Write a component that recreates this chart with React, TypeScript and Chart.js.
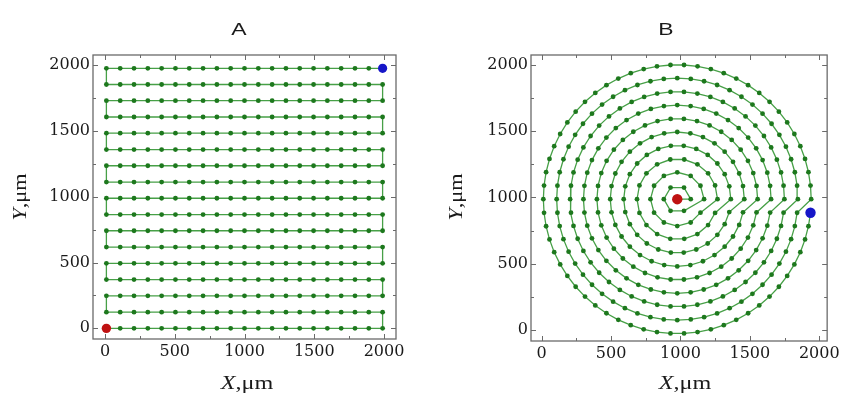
import React, { useEffect, useRef } from "react";
import { Chart, registerables } from "chart.js";

Chart.register(...registerables);

// ---------- Data ----------
// Panel A: raster (serpentine) scan grid
const rasterColumnsX = [10, 109, 208, 307, 406, 505, 604, 703, 802, 901, 1000, 1099, 1198, 1297, 1396, 1495, 1594, 1693, 1792, 1891, 1990];
const rasterRowsY = [0, 123, 247, 370, 494, 617, 741, 864, 988, 1111, 1235, 1358, 1482, 1605, 1729, 1852, 1975];

// Panel B: spiral scan made of rings around a centre
const spiralCenterXY = [977, 987];
const spiralRadiusX = [97, 193, 290, 386, 483, 579, 676, 772, 869, 965];
const spiralRadiusY = [101, 203, 304, 406, 507, 608, 710, 811, 913, 1014];
const spiralPointsPerRing = [6, 12, 18, 26, 32, 38, 44, 50, 56, 62];

// Axes
const majorTicks = [0, 500, 1000, 1500, 2000];
const minorTicks = [250, 750, 1250, 1750];
const panelTitles = ["A", "B"];
const axisTitleX = ["X", ",μm"];
const axisTitleY = ["Y", ",μm"];

// ---------- Styles ----------
const GREEN_LINE = "#47a047";
const GREEN_POINT = "#1d781d";
const RED = "#bf1212";
const BLUE = "#1616c8";
const FRAME = "#6a6a6a";
const TEXT = "#1a1a1a";

type Pt = { x: number; y: number };

function buildRaster(): Pt[] {
  const pts: Pt[] = [];
  rasterRowsY.forEach((y, i) => {
    const cols = i % 2 === 0 ? rasterColumnsX : [...rasterColumnsX].reverse();
    cols.forEach((x) => pts.push({ x, y }));
  });
  return pts;
}

function buildSpiral(): Pt[] {
  const [cx, cy] = spiralCenterXY;
  const pts: Pt[] = [{ x: cx, y: cy }];
  spiralPointsPerRing.forEach((n, k) => {
    for (let j = 0; j < n; j++) {
      const a = (2 * Math.PI * j) / n;
      pts.push({ x: cx + spiralRadiusX[k] * Math.cos(a), y: cy + spiralRadiusY[k] * Math.sin(a) });
    }
  });
  return pts;
}

function drawMixed(
  ctx: CanvasRenderingContext2D,
  parts: { text: string; font: string }[],
  x: number,
  y: number,
  scaleX: number,
  rotate: boolean
) {
  ctx.save();
  ctx.translate(x, y);
  if (rotate) ctx.rotate(-Math.PI / 2);
  ctx.scale(scaleX, 1);
  let total = 0;
  const widths = parts.map((p) => {
    ctx.font = p.font;
    const w = ctx.measureText(p.text).width;
    total += w;
    return w;
  });
  let cur = -total / 2;
  ctx.fillStyle = TEXT;
  ctx.textAlign = "left";
  ctx.textBaseline = "alphabetic";
  parts.forEach((p, i) => {
    ctx.font = p.font;
    ctx.fillText(p.text, cur, 0);
    cur += widths[i];
  });
  ctx.restore();
}

const decorPlugin = {
  id: "decor",
  afterDraw(chart: any, _args: any, opts: any) {
    const ctx: CanvasRenderingContext2D = chart.ctx;
    const { left, right, top, bottom } = chart.chartArea;
    const xs = chart.scales.x;
    const ys = chart.scales.y;
    ctx.save();
    ctx.strokeStyle = FRAME;
    ctx.lineWidth = 1.3;
    ctx.strokeRect(left, top, right - left, bottom - top);
    ctx.lineWidth = 1;
    const drawX = (v: number, len: number) => {
      const p = Math.round(xs.getPixelForValue(v)) + 0.5;
      ctx.beginPath();
      ctx.moveTo(p, bottom);
      ctx.lineTo(p, bottom - len);
      ctx.moveTo(p, top);
      ctx.lineTo(p, top + len);
      ctx.stroke();
    };
    const drawY = (v: number, len: number) => {
      const p = Math.round(ys.getPixelForValue(v)) + 0.5;
      ctx.beginPath();
      ctx.moveTo(left, p);
      ctx.lineTo(left + len, p);
      ctx.moveTo(right, p);
      ctx.lineTo(right - len, p);
      ctx.stroke();
    };
    majorTicks.forEach((v) => {
      drawX(v, 5);
      drawY(v, 5);
    });
    minorTicks.forEach((v) => {
      drawX(v, 3);
      drawY(v, 3);
    });
    ctx.restore();

    // Panel title
    drawMixed(ctx, [{ text: opts.title, font: '17px "Liberation Sans"' }], opts.titleX, 35, 1.35, false);
    // Axis titles
    const serifI = 'italic 19px "Liberation Serif"';
    const serif = '19px "Liberation Serif"';
    drawMixed(
      ctx,
      [
        { text: axisTitleX[0], font: serifI },
        { text: axisTitleX[1], font: serif },
      ],
      opts.xLabelX,
      389,
      1.27,
      false
    );
    drawMixed(
      ctx,
      [
        { text: axisTitleY[0], font: serifI },
        { text: axisTitleY[1], font: serif },
      ],
      opts.yLabelX,
      197,
      1.17,
      true
    );
  },
};

type PanelCfg = {
  pageLeft: number;
  width: number;
  xMin: number;
  xMax: number;
  yMin: number;
  yMax: number;
  yAxisWidth: number;
  xAxisHeight: number;
  padRight: number;
  path: Pt[];
  startRadius: number;
  endRadius: number;
  title: string;
  titleX: number;
  xLabelX: number;
  yLabelX: number;
};

function Panel({ cfg }: { cfg: PanelCfg }) {
  const ref = useRef<HTMLCanvasElement>(null);
  useEffect(() => {
    if (!ref.current) return;
    const tickFont = { family: '"DejaVu Serif"', size: 16 };
    const fmt = (v: any) => String(v);
    const path = cfg.path;
    const chart = new Chart(ref.current, {
      type: "scatter",
      data: {
        datasets: [
          {
            data: [path[0]],
            pointRadius: cfg.startRadius,
            pointBackgroundColor: RED,
            pointBorderWidth: 0,
            showLine: false,
          },
          {
            data: [path[path.length - 1]],
            pointRadius: cfg.endRadius,
            pointBackgroundColor: BLUE,
            pointBorderWidth: 0,
            showLine: false,
          },
          {
            data: path,
            showLine: true,
            borderColor: GREEN_LINE,
            borderWidth: 1.3,
            pointRadius: 2.4,
            pointBackgroundColor: GREEN_POINT,
            pointBorderWidth: 0,
            tension: 0,
          },
        ],
      },
      options: {
        animation: false,
        responsive: false,
        events: [],
        layout: { padding: { left: 0, top: 55, right: cfg.padRight, bottom: 0 } },
        plugins: {
          legend: { display: false },
          tooltip: { enabled: false },
          title: { display: false },
          decor: { title: cfg.title, titleX: cfg.titleX, xLabelX: cfg.xLabelX, yLabelX: cfg.yLabelX },
        } as any,
        scales: {
          x: {
            type: "linear",
            min: cfg.xMin,
            max: cfg.xMax,
            afterBuildTicks: (s: any) => {
              s.ticks = majorTicks.map((v) => ({ value: v }));
            },
            afterFit: (s: any) => {
              s.height = cfg.xAxisHeight;
            },
            grid: { display: false, drawTicks: false },
            border: { display: false },
            ticks: { font: tickFont, color: TEXT, padding: 3, maxRotation: 0, autoSkip: false, callback: fmt },
          },
          y: {
            type: "linear",
            min: cfg.yMin,
            max: cfg.yMax,
            afterBuildTicks: (s: any) => {
              s.ticks = majorTicks.map((v) => ({ value: v }));
            },
            afterFit: (s: any) => {
              s.width = cfg.yAxisWidth;
            },
            grid: { display: false, drawTicks: false },
            border: { display: false },
            ticks: { font: tickFont, color: TEXT, padding: 3, autoSkip: false, callback: fmt },
          },
        },
      },
      plugins: [decorPlugin as any],
    });
    return () => chart.destroy();
  }, []);
  return (
    <canvas
      ref={ref}
      width={cfg.width}
      height={397}
      style={{ position: "absolute", left: cfg.pageLeft, top: 0, width: cfg.width, height: 397 }}
    />
  );
}

export default function App() {
  const panelA: PanelCfg = {
    pageLeft: 0,
    width: 421,
    xMin: -86,
    xMax: 2086,
    yMin: -81,
    yMax: 2076,
    yAxisWidth: 93,
    xAxisHeight: 58,
    padRight: 25,
    path: buildRaster(),
    startRadius: 4.7,
    endRadius: 4.6,
    title: panelTitles[0],
    titleX: 239,
    xLabelX: 247,
    yLabelX: 26,
  };
  const panelB: PanelCfg = {
    pageLeft: 421,
    width: 422,
    xMin: -77,
    xMax: 2057,
    yMin: -83,
    yMax: 2075,
    yAxisWidth: 110,
    xAxisHeight: 56,
    padRight: 15,
    path: buildSpiral(),
    startRadius: 5.2,
    endRadius: 5.2,
    title: panelTitles[1],
    titleX: 245,
    xLabelX: 264,
    yLabelX: 41,
  };
  return (
    <div
      style={{
        position: "absolute",
        left: 0,
        top: 0,
        width: 843,
        height: 397,
        overflow: "hidden",
        background: "#ffffff",
      }}
    >
      <Panel cfg={panelA} />
      <Panel cfg={panelB} />
    </div>
  );
}
